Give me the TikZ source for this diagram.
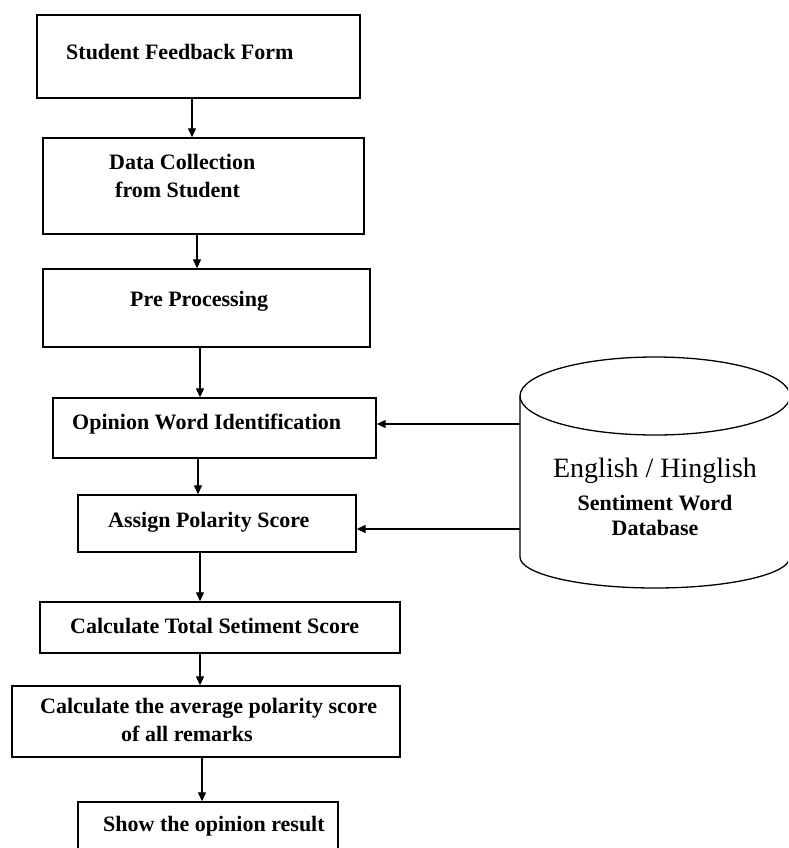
\documentclass[tikz,border=0pt]{standalone}
\usepackage{fontspec}
\setmainfont{Liberation Serif}
\usetikzlibrary{arrows.meta}
\begin{document}
\begin{tikzpicture}[x=1pt,y=-1pt,
  box/.style={draw=black,line width=1.4pt,rectangle,inner sep=0pt},
  lbl/.style={anchor=west,inner sep=0pt,font=\fontsize{22}{28}\selectfont\bfseries,align=left},
  arr/.style={line width=1.3pt,-{Triangle[length=9pt,width=8pt]}}]
\useasboundingbox (0,0) rectangle (788,848);
\clip (0,0) rectangle (788,848);
\fill[white] (0,0) rectangle (788,848);
% boxes
\node[box,minimum width=323pt,minimum height=83pt] (b1) at (198.5,56.5) {};
\node[box,minimum width=321pt,minimum height=96pt] (b2) at (203.5,186) {};
\node[box,minimum width=327pt,minimum height=78pt] (b3) at (206.5,308) {};
\node[box,minimum width=323pt,minimum height=60pt] (b4) at (214.5,428) {};
\node[box,minimum width=278pt,minimum height=57pt] (b5) at (217,523.5) {};
\node[box,minimum width=360pt,minimum height=51pt] (b6) at (220,627.5) {};
\node[box,minimum width=388pt,minimum height=71pt] (b7) at (206,721.5) {};
\node[box,minimum width=260pt,minimum height=54pt] (b8) at (208,829) {};
% texts
\node[lbl] (t1) at (66,52) {Student Feedback Form};
\node[lbl] (t2) at (109,176) {Data Collection\\\hspace{6pt}from Student};
\node[lbl] (t3) at (130,301) {Pre Processing};
\node[lbl] (t4) at (72,424) {Opinion Word Identification};
\node[lbl] (t5) at (108,522) {Assign Polarity Score};
\node[lbl] (t6) at (70,626) {Calculate Total Setiment Score};
\node[lbl] (t7) at (40,720) {Calculate the average polarity score\\\hspace{81pt}of all remarks};
\node[lbl] (t8) at (103,826) {Show the opinion result};
% database cylinder
\draw[line width=1.3pt] (655,396) ellipse [x radius=135,y radius=39];
\draw[line width=1.3pt] (520,396) -- (520,557)
   arc[start angle=180,end angle=0,x radius=135,y radius=31] -- (790,396);
\coordinate (dbw1) at (520,424);
\coordinate (dbw2) at (520,529);
\node[inner sep=0pt,align=center,font=\fontsize{22}{25}\selectfont] (db) at (655,497)
  {\fontsize{28}{30}\selectfont English / Hinglish\\[8pt]
   \bfseries Sentiment Word\\\bfseries Database};
% vertical connectors
\coordinate (x1) at (192,0);
\coordinate (x2) at (197,0);
\coordinate (x3) at (200,0);
\coordinate (x4) at (198,0);
\coordinate (x5) at (200,0);
\coordinate (x6) at (200,0);
\coordinate (x7) at (202,0);
\draw[arr] (b1.south -| x1) -- (b2.north -| x1);
\draw[arr] (b2.south -| x2) -- (b3.north -| x2);
\draw[arr] (b3.south -| x3) -- (b4.north -| x3);
\draw[arr] (b4.south -| x4) -- (b5.north -| x4);
\draw[arr] (b5.south -| x5) -- (b6.north -| x5);
\draw[arr] (b6.south -| x6) -- (b7.north -| x6);
\draw[arr] (b7.south -| x7) -- (b8.north -| x7);
% database connectors
\draw[arr] (dbw1) -- (b4.east |- dbw1);
\draw[arr] (dbw2) -- (b5.east |- dbw2);
\end{tikzpicture}
\end{document}
